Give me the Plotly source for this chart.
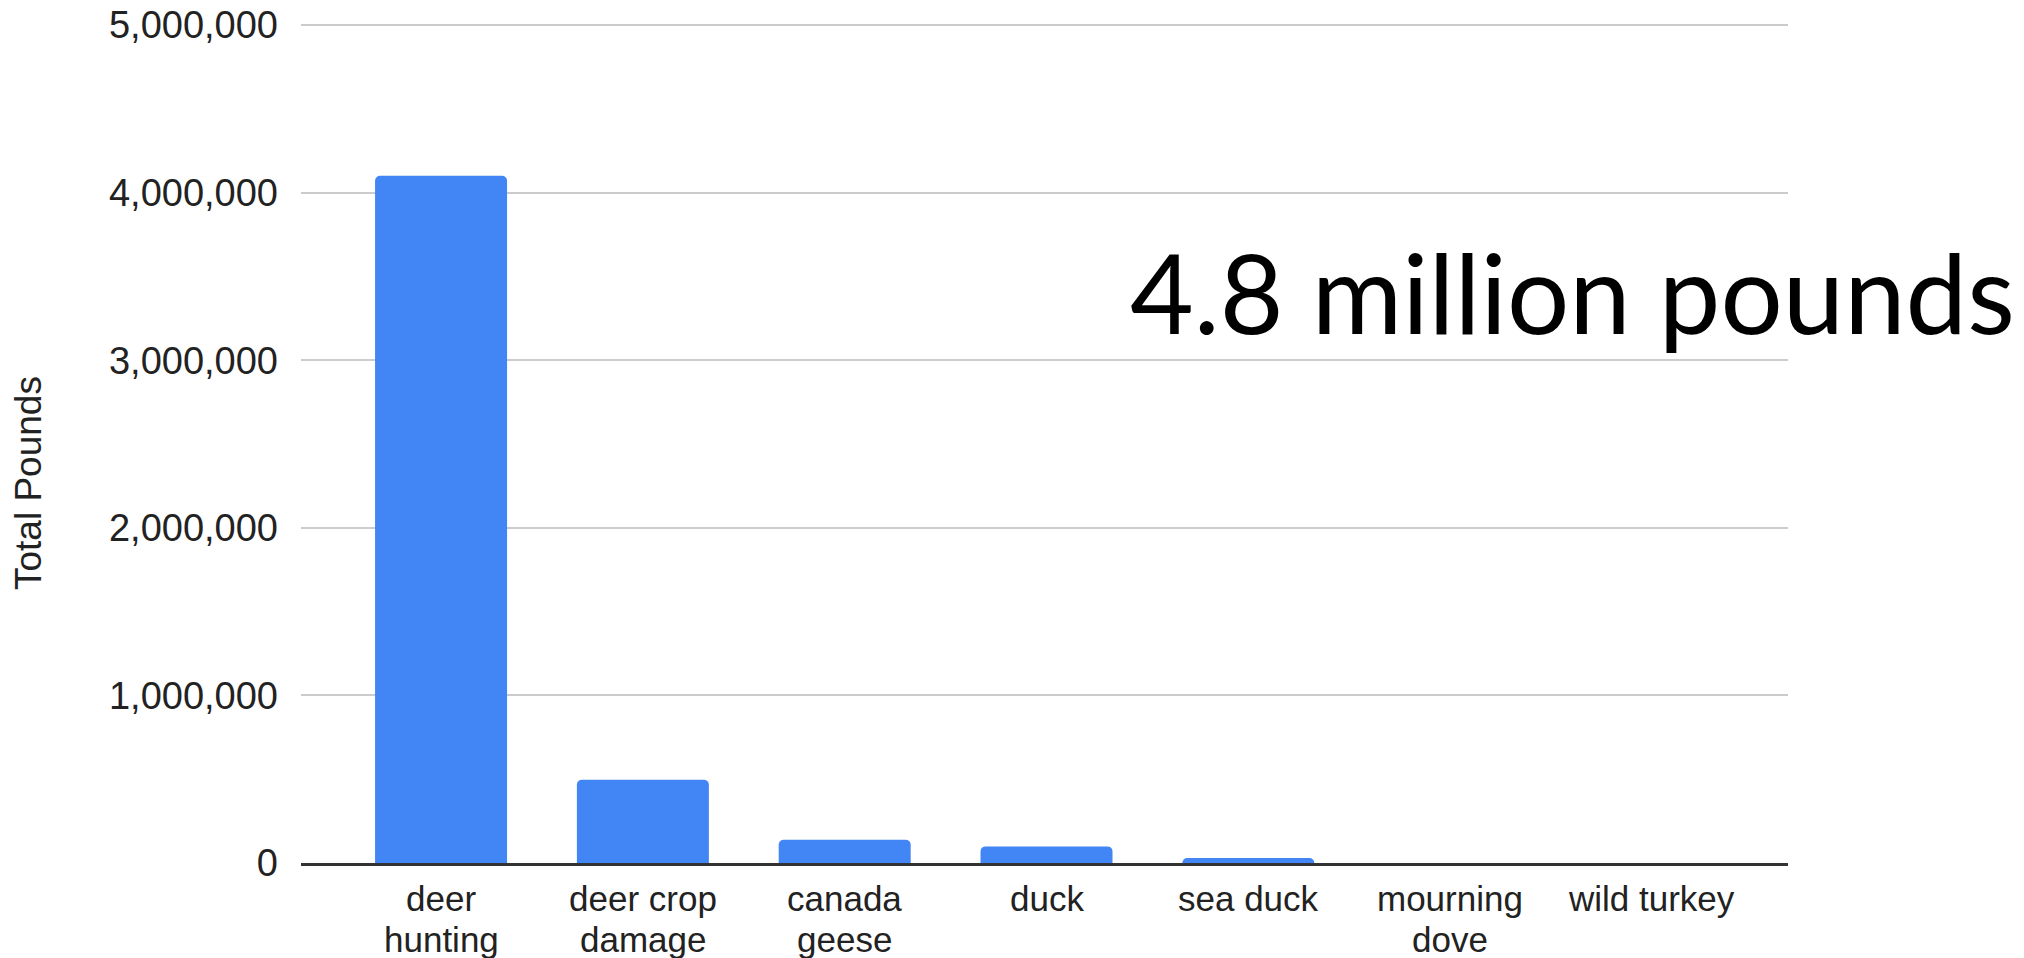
import plotly.graph_objects as go

categories = ["deer hunting", "deer crop damage", "canada geese", "duck",
              "sea duck", "mourning dove", "wild turkey"]
label_line1 = ["deer", "deer crop", "canada", "duck", "sea duck", "mourning", "wild turkey"]
label_line2 = ["hunting", "damage", "geese", "", "", "dove", ""]
pounds = [4100000, 496000, 139000, 99000, 30000, 0, 0]
y_ticks = [0, 1000000, 2000000, 3000000, 4000000, 5000000]
y_tick_labels = ["0", "1,000,000", "2,000,000", "3,000,000", "4,000,000", "5,000,000"]
callout_text = "4.8 million pounds"
y_title = "Total Pounds"

W, H = 2024, 958
L, R, T, B = 301, 236, 20, 95
PW, PH = W - L - R, H - T - B
AX_Y = H - B  # pixel row of the x axis


def py(pix):
    """paper y from pixel row"""
    return (AX_Y - pix) / PH


def px(pix):
    """paper x from pixel column"""
    return (pix - L) / PW


FONT = "Liberation Sans, Arial, sans-serif"
LABEL_SIZE = 35

fig = go.Figure(go.Bar(
    x=categories, y=pounds,
    marker=dict(color="#4285F4", line=dict(width=0)),
    width=0.654,
))

fig.update_layout(
    width=W, height=H,
    margin=dict(l=L, r=R, t=T, b=B, autoexpand=False),
    plot_bgcolor="white", paper_bgcolor="white",
    showlegend=False,
    barcornerradius=5,
    font=dict(family=FONT, color="#222222", size=37),
)

fig.update_xaxes(
    range=[-0.694, 6.674],
    showgrid=False,
    showline=True, linecolor="#333333", linewidth=3,
    layer="above traces",
    ticks="",
    showticklabels=False,
    automargin=False,
    fixedrange=True,
)

fig.update_yaxes(
    range=[0, 5030000],
    tickvals=y_ticks, ticktext=y_tick_labels,
    showgrid=True, gridcolor="#cccccc", gridwidth=2,
    zeroline=False,
    showline=False,
    ticks="",
    tickfont=dict(size=38, color="#222222", family=FONT),
    ticklabelstandoff=22,
    automargin=False,
    fixedrange=True,
)

# category labels, two tight lines as in the reference
SPLIT = 918.5  # pixel row between the two label lines
for cat, l1, l2 in zip(categories, label_line1, label_line2):
    fig.add_annotation(
        text=l1, x=cat, xref="x", yref="paper", y=py(SPLIT),
        xanchor="center", yanchor="bottom", showarrow=False, borderpad=0,
        font=dict(size=LABEL_SIZE, color="#222222", family=FONT),
    )
    if l2:
        fig.add_annotation(
            text=l2, x=cat, xref="x", yref="paper", y=py(SPLIT),
            xanchor="center", yanchor="top", showarrow=False, borderpad=0,
            font=dict(size=LABEL_SIZE, color="#222222", family=FONT),
        )

fig.add_annotation(
    text=y_title, xref="paper", yref="paper",
    x=px(28), y=py(483),
    xanchor="center", yanchor="middle", textangle=-90, showarrow=False,
    font=dict(size=37, color="#222222", family=FONT),
)

fig.add_annotation(
    text=callout_text, xref="paper", yref="paper",
    x=px(1572), y=py(291),
    xanchor="center", yanchor="middle", showarrow=False,
    font=dict(size=110, color="#000000", family="Lato, Carlito, sans-serif"),
)

fig.write_html("out.html", config={"displayModeBar": False},
               post_script="document.body.style.margin='0';")
